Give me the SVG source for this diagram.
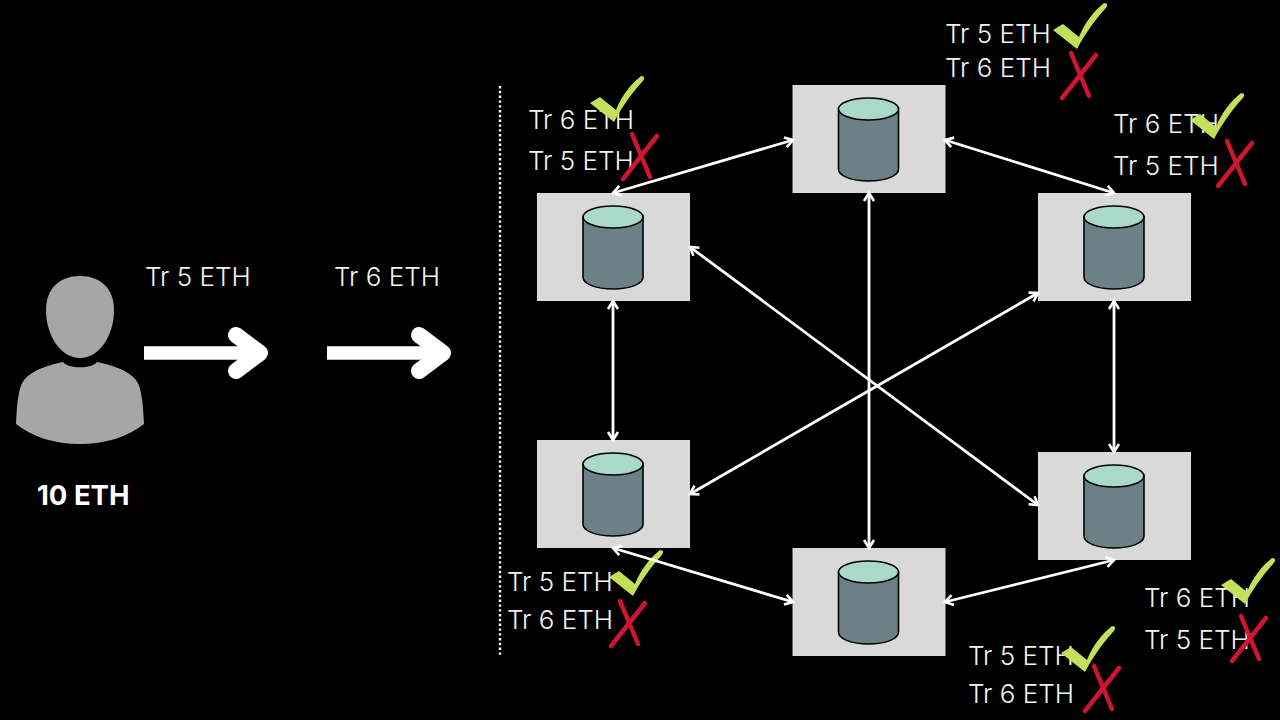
<svg xmlns="http://www.w3.org/2000/svg" xmlns:xlink="http://www.w3.org/1999/xlink" width="1280" height="720" viewBox="0 0 1280 720">
<style>
text{font-family:Inter,"Liberation Sans",sans-serif;fill:#f4f4f4}
.t{font-size:26px;font-weight:300}
.b{font-size:27.500px;font-weight:700;fill:#fff}
.box{fill:#d9d9d9}
.side{fill:#6c8185;stroke:#000;stroke-width:1.6}
.lid{fill:#a9d9c8;stroke:#000;stroke-width:1.6}
.c{stroke:#fff;stroke-width:2.8;fill:none;marker-start:url(#h);marker-end:url(#h)}
.p{fill:#a6a6a6}
.big{stroke:#fff;stroke-width:13.5;fill:none}
.tip{stroke:#fff;stroke-width:16;fill:none;stroke-linejoin:round;stroke-linecap:round}
</style>
<defs>
<marker id="h" viewBox="-10 -7 12 14" refX="0" refY="0" markerUnits="userSpaceOnUse" markerWidth="12" markerHeight="14" orient="auto-start-reverse"><path d="M-8-5 L0 0 L-8 5" fill="none" stroke="#fff" stroke-width="2.6"/></marker>
<g id="db"><rect class="box" width="153" height="108"/><path class="side" d="M46 24V84C46 91 59 96 76 96S106 91 106 84V24Z"/><ellipse class="lid" cx="76" cy="24" rx="30" ry="11"/></g>
<path id="ok" fill="#c3e05a" d="M590 103 600 97 616 110C622 95 631 84 641 76 645 76 645 79 642 82 631 94 622 107 614 122Z"/>
<g id="no" fill="none" stroke="#cf1530" stroke-width="4.500" stroke-linecap="round"><path d="M632 134 650 177M657 136 623 179"/></g>
</defs>
<rect width="1280" height="720" fill="#000"/>
<g id="user"><path class="p" d="M80 276C100 276 114 288 114 310C114 336 99 358 80 358S46 336 46 310C46 288 60 276 80 276Z"/><path class="p" d="M63 362C68 369 92 369 97 362C112 365 128 370 136 380C142 388 143 405 144 424C128 437 105 444 80 444S32 437 16 424C17 405 18 388 24 380C32 370 48 365 63 362Z"/><text class="b" x="37" y="505">10 ETH</text></g>
<g id="send"><text class="t" x="145" y="286">Tr 5 ETH</text><text class="t" x="334" y="286">Tr 6 ETH</text><path class="big" d="M144 353H258"/><path class="tip" d="M236 335 260 353 236 371"/><path class="big" d="M327 353H441"/><path class="tip" d="M419 335 443 353 419 371"/></g>
<path id="divider" d="M500 86V655" stroke="#fff" stroke-width="2.400" stroke-dasharray="2.400 2.400" fill="none"/>
<g id="n1" transform="translate(537 193)"><use href="#db"/></g>
<g id="n2" transform="translate(792.500 85)"><use href="#db"/></g>
<g id="n3" transform="translate(1038 193)"><use href="#db"/></g>
<g id="n4" transform="translate(537 440)"><use href="#db"/></g>
<g id="n5" transform="translate(792.500 548)"><use href="#db"/></g>
<g id="n6" transform="translate(1038 452)"><use href="#db"/></g>
<g id="labels">
<text class="t" x="528" y="129">Tr 6 ETH</text><text class="t" x="528" y="170">Tr 5 ETH</text>
<text class="t" x="945" y="43">Tr 5 ETH</text><text class="t" x="945" y="77">Tr 6 ETH</text>
<text class="t" x="1113" y="133">Tr 6 ETH</text><text class="t" x="1113" y="175">Tr 5 ETH</text>
<text class="t" x="507" y="591">Tr 5 ETH</text><text class="t" x="507" y="629">Tr 6 ETH</text>
<text class="t" x="1144" y="607">Tr 6 ETH</text><text class="t" x="1144" y="649">Tr 5 ETH</text>
<text class="t" x="968" y="665">Tr 5 ETH</text><text class="t" x="968" y="703">Tr 6 ETH</text>
</g>
<g id="marks">
<use href="#ok"/><use href="#no"/>
<use href="#ok" x="463" y="-73"/><use href="#no" x="439" y="-81"/>
<use href="#ok" x="600" y="17"/><use href="#no" x="595" y="7"/>
<use href="#ok" x="19" y="474"/><use href="#no" x="-12" y="467"/>
<use href="#ok" x="631" y="482"/><use href="#no" x="609" y="482"/>
<use href="#ok" x="471" y="550"/><use href="#no" x="462" y="532"/>
</g>
<g id="connectors">
<path class="c" d="M613 193 793 140"/>
<path class="c" d="M945 140 1114 193"/>
<path class="c" d="M690 247 1038 505"/>
<path class="c" d="M1038 293 690 494"/>
<path class="c" d="M869 193V548"/>
<path class="c" d="M613 301V440"/>
<path class="c" d="M1114 301V452"/>
<path class="c" d="M613 548 793 602"/>
<path class="c" d="M945 602 1114 560"/>
</g>
</svg>
